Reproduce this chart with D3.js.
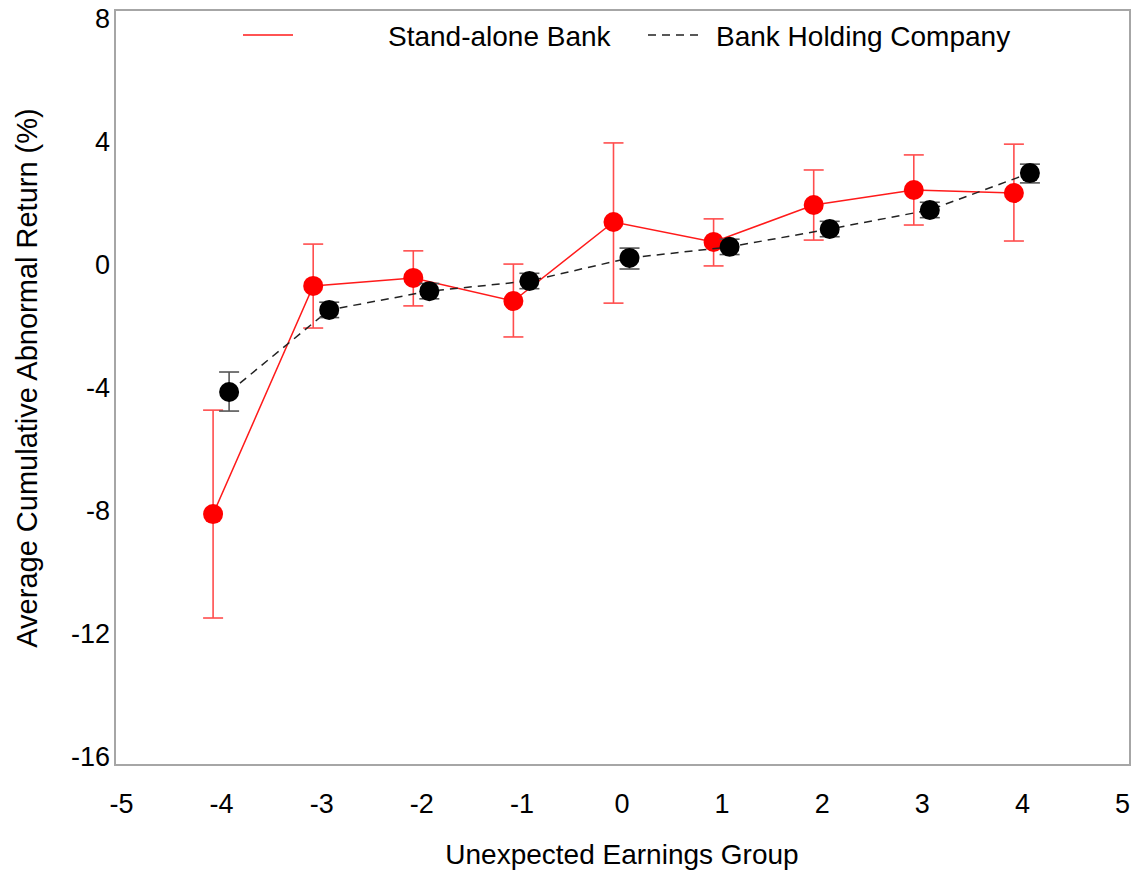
<!DOCTYPE html>
<html>
<head>
<meta charset="utf-8">
<script src="https://cdn.jsdelivr.net/npm/d3@7"></script>
<style>
  html, body { margin: 0; padding: 0; background: #fff; }
  svg { display: block; font-family: "Liberation Sans", Arial, sans-serif; }
</style>
</head>
<body>
<svg id="chart" width="1136" height="871"></svg>
<script>
// Unexpected earnings groups
const groups = [-4, -3, -2, -1, 0, 1, 2, 3, 4];

// Stand-alone banks: mean CAR (%) with error bar bounds
const standMean  = [-8.10, -0.68, -0.42, -1.17, 1.40, 0.75, 1.95, 2.44, 2.34];
const standUpper = [-4.72,  0.68,  0.46,  0.03, 3.97, 1.50, 3.09, 3.58, 3.93];
const standLower = [-11.48, -2.05, -1.33, -2.34, -1.24, -0.03, 0.81, 1.30, 0.78];

// Bank holding companies: mean CAR (%) with error bar bounds
const bhcMean  = [-4.13, -1.46, -0.85, -0.52, 0.23, 0.59, 1.17, 1.79, 2.99];
const bhcUpper = [-3.48, -1.21, -0.60, -0.27, 0.55, 0.84, 1.42, 2.04, 3.28];
const bhcLower = [-4.75, -1.71, -1.10, -0.77, -0.13, 0.34, 0.92, 1.54, 2.67];

const xTicks = [-5, -4, -3, -2, -1, 0, 1, 2, 3, 4, 5];
const yTicks = [8, 4, 0, -4, -8, -12, -16];

const svg = d3.select("#chart");

const box = { left: 115, right: 1130, top: 10, bottom: 765 };

const x = d3.scaleLinear().domain([-5, 5]).range([121, 1122]);
const y = d3.scaleLinear().domain([-16, 8]).range([757, 19]);

// Frame
svg.append("rect")
  .attr("x", box.left).attr("y", box.top)
  .attr("width", box.right - box.left).attr("height", box.bottom - box.top)
  .attr("fill", "none").attr("stroke", "#a6a6a6").attr("stroke-width", 2);

const plainNum = d => String(d);

// Axes (labels only, no tick marks or domain line)
const xAxis = svg.append("g")
  .attr("transform", `translate(0, ${box.bottom})`)
  .call(d3.axisBottom(x).tickValues(xTicks).tickSize(0).tickPadding(29).tickFormat(plainNum));
xAxis.select(".domain").remove();
xAxis.selectAll("text").attr("font-size", 27).attr("fill", "#000")
  .attr("font-family", "Liberation Sans, Arial, sans-serif");

const yAxis = svg.append("g")
  .attr("transform", `translate(${box.left}, 0)`)
  .call(d3.axisLeft(y).tickValues(yTicks).tickSize(0).tickPadding(5).tickFormat(plainNum));
yAxis.select(".domain").remove();
yAxis.selectAll("text").attr("font-size", 27).attr("fill", "#000")
  .attr("font-family", "Liberation Sans, Arial, sans-serif");

// Axis titles
svg.append("text")
  .attr("x", 622).attr("y", 864)
  .attr("text-anchor", "middle")
  .attr("font-size", 28)
  .text("Unexpected Earnings Group");

svg.append("text")
  .attr("transform", "translate(37, 378) rotate(-90)")
  .attr("text-anchor", "middle")
  .attr("font-size", 29)
  .text("Average Cumulative Abnormal Return (%)");

// Build series records
function series(mean, lo, hi, offset) {
  return groups.map((g, i) => ({ gx: g + offset, m: mean[i], lo: lo[i], hi: hi[i] }));
}
const stand = series(standMean, standLower, standUpper, -0.08);
const bhc = series(bhcMean, bhcLower, bhcUpper, 0.08);

const line = d3.line().x(d => x(d.gx)).y(d => y(d.m));

function drawSeries(data, opts) {
  const g = svg.append("g");
  g.append("path")
    .datum(data)
    .attr("d", line)
    .attr("fill", "none")
    .attr("stroke", opts.lineColor)
    .attr("stroke-width", 1.5)
    .attr("stroke-dasharray", opts.dash || null);

  const eb = g.append("g").attr("stroke", opts.barColor).attr("stroke-width", 1.6);
  eb.selectAll("line.v").data(data).join("line").attr("class", "v")
    .attr("x1", d => x(d.gx)).attr("x2", d => x(d.gx))
    .attr("y1", d => y(d.hi)).attr("y2", d => y(d.lo));
  eb.selectAll("line.top").data(data).join("line").attr("class", "top")
    .attr("x1", d => x(d.gx) - 10).attr("x2", d => x(d.gx) + 10)
    .attr("y1", d => y(d.hi)).attr("y2", d => y(d.hi));
  eb.selectAll("line.bot").data(data).join("line").attr("class", "bot")
    .attr("x1", d => x(d.gx) - 10).attr("x2", d => x(d.gx) + 10)
    .attr("y1", d => y(d.lo)).attr("y2", d => y(d.lo));

  g.selectAll("circle").data(data).join("circle")
    .attr("cx", d => x(d.gx)).attr("cy", d => y(d.m))
    .attr("r", 10).attr("fill", opts.dotColor);
}

drawSeries(stand, { lineColor: "#ff1a1a", barColor: "#ff4d4d", dotColor: "#ff0000" });
drawSeries(bhc, { lineColor: "#222", barColor: "#555", dotColor: "#000", dash: "8,6" });

// Legend
const legend = svg.append("g");
legend.append("line")
  .attr("x1", 243).attr("x2", 293).attr("y1", 35).attr("y2", 35)
  .attr("stroke", "#ff1a1a").attr("stroke-width", 1.5);
legend.append("text")
  .attr("x", 388).attr("y", 46).attr("font-size", 28)
  .text("Stand-alone Bank");
legend.append("line")
  .attr("x1", 648).attr("x2", 700).attr("y1", 35).attr("y2", 35)
  .attr("stroke", "#222").attr("stroke-width", 1.5).attr("stroke-dasharray", "8,6");
legend.append("text")
  .attr("x", 716).attr("y", 46).attr("font-size", 28)
  .text("Bank Holding Company");
</script>
</body>
</html>
